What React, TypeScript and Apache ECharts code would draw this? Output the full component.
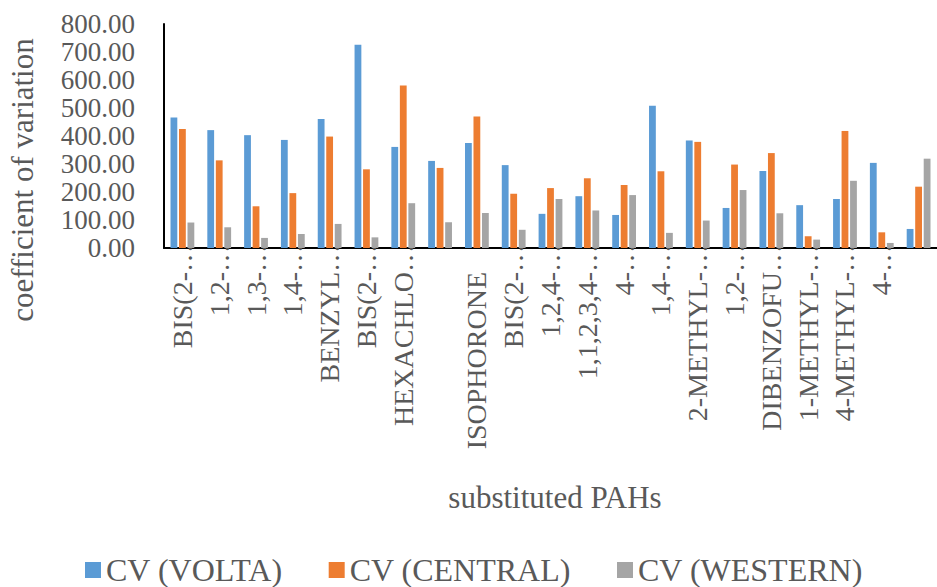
import React, { useEffect, useRef } from "react";
import * as echarts from "echarts";

// Category labels as printed under the axis (long names are cut with an ellipsis)
const categories: string[] = [
  "BIS(2-…",
  "1,2-…",
  "1,3-…",
  "1,4-…",
  "BENZYL…",
  "BIS(2-…",
  "HEXACHLO…",
  "",
  "ISOPHORONE",
  "BIS(2-…",
  "1,2,4-…",
  "1,1,2,3,4-…",
  "4-…",
  "1,4-…",
  "2-METHYL-…",
  "1,2-…",
  "DIBENZOFU…",
  "1-METHYL-…",
  "4-METHYL-…",
  "4-…",
  "",
];

const cvVolta: number[] = [
  466, 421, 403, 386, 461, 726, 361, 311, 375, 296, 122,
  185, 118, 508, 384, 143, 275, 153, 175, 304, 68,
];

const cvCentral: number[] = [
  425, 313, 149, 196, 398, 281, 580, 286, 470, 194, 214,
  249, 225, 274, 379, 298, 339, 42, 418, 56, 219,
];

const cvWestern: number[] = [
  91, 74, 36, 50, 86, 38, 160, 92, 125, 65, 175,
  134, 189, 54, 98, 207, 124, 30, 240, 18, 319,
];

const seriesNames: string[] = ["CV (VOLTA)", "CV (CENTRAL)", "CV (WESTERN)"];
const seriesColors: string[] = ["#5B9BD5", "#ED7D31", "#A5A5A5"];

const yTicks = { min: 0, max: 800, interval: 100 };

const FONT = "'Liberation Serif', 'Times New Roman', serif";
const TEXT_COLOR = "#595959";

export default function App() {
  const ref = useRef<HTMLDivElement>(null);

  useEffect(() => {
    document.body.style.margin = "0";
    if (!ref.current) return;
    const chart = echarts.init(ref.current, undefined, { renderer: "svg" });

    const values = [cvVolta, cvCentral, cvWestern];

    chart.setOption({
      animation: false,
      backgroundColor: "#ffffff",
      textStyle: { fontFamily: FONT },
      grid: { left: 164, right: -9, top: 24, bottom: 339, containLabel: false },
      legend: {
        data: seriesNames,
        left: 85,
        top: 554,
        padding: 0,
        itemWidth: 16,
        itemHeight: 16,
        itemGap: 46,
        icon: "rect",
        textStyle: {
          fontFamily: FONT,
          fontSize: 32,
          color: TEXT_COLOR,
        },
      },
      xAxis: {
        type: "category",
        data: categories,
        axisLine: { show: true, lineStyle: { color: "#000000", width: 2 } },
        axisTick: { show: false },
        axisLabel: {
          interval: 0,
          rotate: 90,
          margin: -4,
          fontFamily: FONT,
          fontSize: 28,
          color: TEXT_COLOR,
          formatter: (name: string) =>
            name === "" || name.endsWith("…") ? name : `{p|${name}}`,
          rich: {
            p: {
              fontFamily: FONT,
              fontSize: 28,
              color: TEXT_COLOR,
              padding: [0, 28, 0, 0],
            },
          },
        },
        splitLine: { show: false },
      },
      yAxis: {
        type: "value",
        min: yTicks.min,
        max: yTicks.max,
        interval: yTicks.interval,
        axisLine: { show: true, lineStyle: { color: "#000000", width: 2 } },
        axisTick: { show: false },
        splitLine: { show: false },
        axisLabel: {
          margin: 29,
          showMinLabel: true,
          showMaxLabel: true,
          fontFamily: FONT,
          fontSize: 27,
          color: TEXT_COLOR,
          formatter: (v: number) => v.toFixed(2),
        },
      },
      graphic: [
        {
          type: "text",
          x: 22,
          y: 180,
          rotation: Math.PI / 2,
          style: {
            text: "coefficient of variation",
            fontFamily: FONT,
            fontSize: 31,
            fill: TEXT_COLOR,
            align: "center",
            verticalAlign: "middle",
          },
        },
        {
          type: "text",
          x: 555,
          y: 497,
          style: {
            text: "substituted PAHs",
            fontFamily: FONT,
            fontSize: 31,
            fill: TEXT_COLOR,
            align: "center",
            verticalAlign: "middle",
          },
        },
      ],
      series: seriesNames.map((name, i) => ({
        name,
        type: "bar",
        data: values[i],
        barWidth: 6.8,
        barGap: "25%",
        itemStyle: { color: seriesColors[i] },
      })),
    });

    return () => chart.dispose();
  }, []);

  return <div ref={ref} style={{ width: 937, height: 587 }} />;
}
